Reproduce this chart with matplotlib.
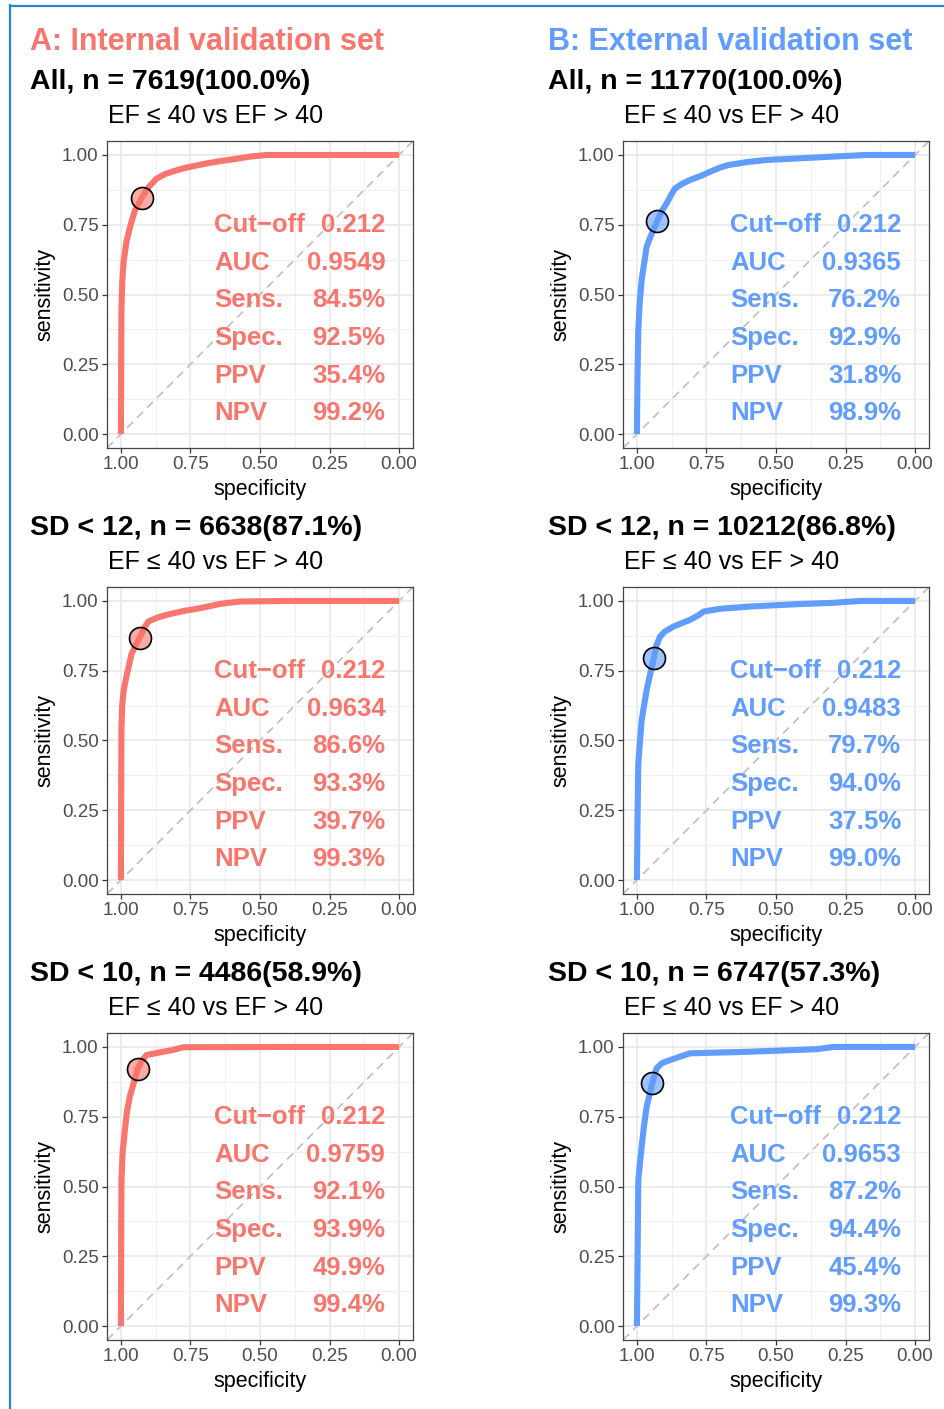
import matplotlib
matplotlib.use('Agg')
import matplotlib.pyplot as plt
from matplotlib.lines import Line2D
from matplotlib.colors import to_rgba
import numpy as np

plt.rcParams['font.family'] = ['Liberation Sans', 'DejaVu Sans']

# ---- data ----
set_titles = ["A: Internal validation set", "B: External validation set"]
int_subsets = ["All, n = 7619(100.0%)", "SD < 12, n = 6638(87.1%)", "SD < 10, n = 4486(58.9%)"]
ext_subsets = ["All, n = 11770(100.0%)", "SD < 12, n = 10212(86.8%)", "SD < 10, n = 6747(57.3%)"]
comparison = "EF \u2264 40 vs EF > 40"

stat_labels = ["Cut\u2212off", "AUC", "Sens.", "Spec.", "PPV", "NPV"]
int_stats = [
    ["0.212", "0.9549", "84.5%", "92.5%", "35.4%", "99.2%"],
    ["0.212", "0.9634", "86.6%", "93.3%", "39.7%", "99.3%"],
    ["0.212", "0.9759", "92.1%", "93.9%", "49.9%", "99.4%"],
]
ext_stats = [
    ["0.212", "0.9365", "76.2%", "92.9%", "31.8%", "98.9%"],
    ["0.212", "0.9483", "79.7%", "94.0%", "37.5%", "99.0%"],
    ["0.212", "0.9653", "87.2%", "94.4%", "45.4%", "99.3%"],
]
int_cut_sens = [0.845, 0.866, 0.921]
int_cut_spec = [0.925, 0.933, 0.939]
ext_cut_sens = [0.762, 0.797, 0.872]
ext_cut_spec = [0.929, 0.940, 0.944]

# ROC curves as (1 - specificity, sensitivity)
int_all_fpr = [0, 0.001, 0.002, 0.005, 0.01, 0.02, 0.035, 0.05, 0.074, 0.1, 0.128, 0.16, 0.19,
               0.224, 0.27, 0.31, 0.344, 0.4, 0.464, 0.524, 0.7, 1.0]
int_all_tpr = [0, 0.25, 0.45, 0.55, 0.62, 0.69, 0.75, 0.80, 0.845, 0.885, 0.915, 0.932, 0.942,
               0.952, 0.962, 0.970, 0.976, 0.984, 0.994, 1.0, 1.0, 1.0]
int_sd12_fpr = [0, 0.001, 0.002, 0.005, 0.01, 0.02, 0.038, 0.066, 0.085, 0.098, 0.13, 0.164,
                0.22, 0.284, 0.36, 0.428, 0.6, 1.0]
int_sd12_tpr = [0, 0.3, 0.55, 0.63, 0.68, 0.73, 0.81, 0.866, 0.905, 0.926, 0.94, 0.95,
                0.963, 0.974, 0.99, 0.998, 1.0, 1.0]
int_sd10_fpr = [0, 0.001, 0.002, 0.006, 0.014, 0.022, 0.032, 0.06, 0.075, 0.092, 0.152, 0.19,
                0.224, 0.6, 1.0]
int_sd10_tpr = [0, 0.3, 0.52, 0.62, 0.70, 0.77, 0.822, 0.92, 0.95, 0.971, 0.983, 0.99,
                0.999, 1.0, 1.0]
ext_all_fpr = [0, 0.002, 0.005, 0.01, 0.017, 0.035, 0.05, 0.073, 0.09, 0.107, 0.125, 0.137, 0.16,
               0.19, 0.23, 0.263, 0.3, 0.329, 0.4, 0.466, 0.586, 0.7, 0.826, 1.0]
ext_all_tpr = [0, 0.2, 0.373, 0.47, 0.552, 0.671, 0.71, 0.763, 0.80, 0.827, 0.86, 0.88, 0.895,
               0.91, 0.925, 0.94, 0.955, 0.964, 0.975, 0.982, 0.988, 0.994, 1.0, 1.0]
ext_sd12_fpr = [0, 0.002, 0.005, 0.017, 0.035, 0.061, 0.07, 0.083, 0.1, 0.131, 0.16, 0.19, 0.22,
                0.239, 0.3, 0.406, 0.586, 0.7, 0.802, 1.0]
ext_sd12_tpr = [0, 0.2, 0.418, 0.573, 0.681, 0.797, 0.84, 0.872, 0.89, 0.908, 0.92, 0.932, 0.948,
                0.962, 0.972, 0.98, 0.989, 0.993, 1.0, 1.0]
ext_sd10_fpr = [0, 0.002, 0.005, 0.017, 0.025, 0.035, 0.056, 0.071, 0.09, 0.119, 0.19, 0.406,
                0.646, 0.706, 1.0]
ext_sd10_tpr = [0, 0.2, 0.523, 0.643, 0.714, 0.786, 0.872, 0.924, 0.942, 0.953, 0.977, 0.983,
                0.992, 1.0, 1.0]

ticks = [1.0, 0.75, 0.5, 0.25, 0.0]
tick_labels = ["1.00", "0.75", "0.50", "0.25", "0.00"]

# ---- layout (pixels) ----
W, H = 944, 1409
RED, BLUE = '#F8766D', '#619CFF'


def fx(x):
    return x / W


def fy(y):
    return 1 - y / H


fig = plt.figure(figsize=(W / 100, H / 100), dpi=100)

columns = [
    dict(color=RED, title=set_titles[0], subsets=int_subsets, stats=int_stats,
         cut_sens=int_cut_sens, cut_spec=int_cut_spec,
         curves=[(int_all_fpr, int_all_tpr), (int_sd12_fpr, int_sd12_tpr), (int_sd10_fpr, int_sd10_tpr)],
         ax_left=107, text_x=30, ef_x=108),
    dict(color=BLUE, title=set_titles[1], subsets=ext_subsets, stats=ext_stats,
         cut_sens=ext_cut_sens, cut_spec=ext_cut_spec,
         curves=[(ext_all_fpr, ext_all_tpr), (ext_sd12_fpr, ext_sd12_tpr), (ext_sd10_fpr, ext_sd10_tpr)],
         ax_left=623, text_x=548, ef_x=624),
]
row_top = [141, 587, 1033]
row_step = 446
ax_w, ax_h = 306, 307

for col in columns:
    c = col['color']
    fig.text(fx(col['text_x']), fy(50), col['title'], fontsize=22, fontweight='bold',
             color=c, va='baseline')
    for r in range(3):
        fig.text(fx(col['text_x']), fy(89 + row_step * r), col['subsets'][r], fontsize=20.5,
                 fontweight='bold', color='black', va='baseline')
        fig.text(fx(col['ef_x']), fy(123 + row_step * r), comparison, fontsize=18,
                 color='black', va='baseline')

        ax = fig.add_axes([fx(col['ax_left']), fy(row_top[r] + ax_h), ax_w / W, ax_h / H])
        ax.set_xlim(1.05, -0.05)
        ax.set_ylim(-0.05, 1.05)
        ax.set_xticks(ticks)
        ax.set_xticklabels(tick_labels)
        ax.set_yticks(ticks)
        ax.set_yticklabels(tick_labels)
        ax.set_xticks([0.875, 0.625, 0.375, 0.125], minor=True)
        ax.set_yticks([0.875, 0.625, 0.375, 0.125], minor=True)
        ax.grid(which='major', color='#EAEAEA', lw=1.3)
        ax.grid(which='minor', color='#F0F0F0', lw=0.8)
        ax.set_axisbelow(True)
        for s in ax.spines.values():
            s.set_color('#444444')
            s.set_linewidth(0.9)
        ax.tick_params(which='major', length=3.5, width=0.9, color='#333333',
                       labelsize=13.5, labelcolor='#4D4D4D', pad=2.5)
        ax.tick_params(which='minor', length=0)
        ax.set_xlabel('specificity', fontsize=15.5, labelpad=4)
        ax.set_ylabel('sensitivity', fontsize=15.5, labelpad=5)

        ax.axline((1, 0), (0, 1), color='#BEBEBE', lw=1.2, ls=(0, (5, 3.5)), zorder=1)

        fpr, tpr = col['curves'][r]
        spec = 1 - np.array(fpr)
        ax.plot(spec, tpr, color=c, lw=4.4, solid_capstyle='butt', zorder=3)
        ax.scatter([col['cut_spec'][r]], [col['cut_sens'][r]], s=250,
                   facecolor=to_rgba(c, 0.6), edgecolor='black', lw=1.2, zorder=4)

        for i, (lab, val) in enumerate(zip(stat_labels, col['stats'][r])):
            y = 0.724 - 0.135 * i
            ax.text(0.665, y, lab, ha='left', va='baseline', color=c,
                    fontsize=18.5, fontweight='bold', zorder=5)
            ax.text(0.05, y, val, ha='right', va='baseline', color=c,
                    fontsize=18.5, fontweight='bold', zorder=5)

# blue frame along the top and left edges
frame = '#2389CE'
fig.add_artist(Line2D([fx(10), fx(10)], [fy(5), 0], color=frame, lw=1.6))
fig.add_artist(Line2D([fx(10), 1], [fy(5.5), fy(5.5)], color=frame, lw=1.6))

fig.savefig('out.png', dpi=100)
